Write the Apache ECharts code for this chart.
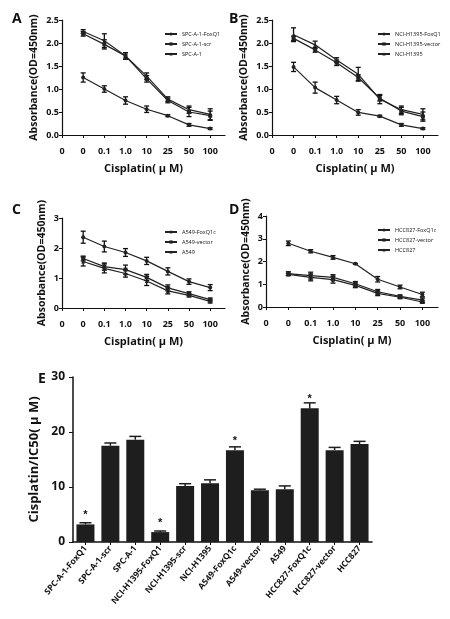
<!DOCTYPE html>
<html><head><meta charset="utf-8">
<script src="https://cdn.jsdelivr.net/npm/echarts@6/dist/echarts.min.js"></script>
<style>html,body{margin:0;background:#fff}#c{width:450px;height:619px}</style>
</head><body><div id="c"></div>
<script>
// 横轴标签 (位置 0 为原点)
var doseLabels = ['0', '0', '0.1', '1.0', '10', '25', '50', '100'];
var doseX = [1, 2, 3, 4, 5, 6, 7];

// A
var namesA = ['SPC-A-1-FoxQ1', 'SPC-A-1-scr', 'SPC-A-1'];
var valsA = [[1.25,1.0,0.75,0.56,0.42,0.22,0.14],[2.2,1.97,1.72,1.22,0.75,0.5,0.42],[2.25,2.05,1.72,1.28,0.78,0.55,0.45]];
var errsA = [[0.1,0.07,0.08,0.07,0.02,0.03,0.02],[0.05,0.1,0.07,0.07,0.05,0.1,0.1],[0.04,0.15,0.07,0.07,0.05,0.08,0.12]];
// B
var namesB = ['NCI-H1395-FoxQ1', 'NCI-H1395-vector', 'NCI-H1395'];
var valsB = [[1.48,1.03,0.76,0.49,0.41,0.22,0.14],[2.1,1.85,1.57,1.25,0.8,0.52,0.4],[2.18,1.96,1.63,1.32,0.78,0.55,0.45]];
var errsB = [[0.1,0.12,0.08,0.06,0.02,0.03,0.02],[0.05,0.05,0.06,0.06,0.06,0.08,0.1],[0.15,0.08,0.05,0.15,0.1,0.08,0.12]];
// C
var namesC = ['A549-FoxQ1c', 'A549-vector', 'A549'];
var valsC = [[2.36,2.05,1.85,1.57,1.22,0.88,0.68],[1.65,1.38,1.28,1.02,0.67,0.48,0.28],[1.55,1.32,1.15,0.9,0.57,0.42,0.22]];
var errsC = [[0.2,0.18,0.13,0.12,0.12,0.09,0.1],[0.08,0.12,0.15,0.1,0.1,0.06,0.05],[0.15,0.15,0.12,0.15,0.1,0.05,0.05]];
// D
var namesD = ['HCC827-FoxQ1c', 'HCC827-vector', 'HCC827'];
var valsD = [[2.8,2.45,2.18,1.9,1.22,0.88,0.55],[1.47,1.38,1.3,1.02,0.67,0.47,0.3],[1.43,1.3,1.2,0.95,0.6,0.43,0.22]];
var errsD = [[0.1,0.07,0.08,0.02,0.12,0.08,0.1],[0.08,0.15,0.12,0.1,0.1,0.06,0.1],[0.05,0.15,0.15,0.1,0.1,0.06,0.05]];
// E
var cellLines = ['SPC-A-1-FoxQ1','SPC-A-1-scr','SPC-A-1','NCI-H1395-FoxQ1','NCI-H1395-scr','NCI-H1395','A549-FoxQ1c','A549-vector','A549','HCC827-FoxQ1c','HCC827-vector','HCC827'];
var ic50 = [3.2,17.5,18.6,1.8,10.2,10.7,16.7,9.4,9.6,24.3,16.7,17.8];
var ic50Err = [0.3,0.5,0.6,0.2,0.4,0.6,0.6,0.2,0.6,1.0,0.5,0.5];
var starred = [0, 3, 6, 9];

var symbols = ['circle', 'rect', 'triangle'];
var font = 'Open Sans';

var chart = echarts.init(document.getElementById('c'));

var panels = [
    {names: namesA, vals: valsA, errs: errsA, max: 2.5, step: 0.5, dec: 1, left: 62, top: 20, width: 163, height: 115},
    {names: namesB, vals: valsB, errs: errsB, max: 2.5, step: 0.5, dec: 1, left: 272, top: 20, width: 166, height: 115},
    {names: namesC, vals: valsC, errs: errsC, max: 3, step: 1, dec: 0, left: 62, top: 218, width: 163, height: 90},
    {names: namesD, vals: valsD, errs: errsD, max: 4, step: 1, dec: 0, left: 266, top: 216, width: 172, height: 91}
];

// 误差线
function errRender(w) {
    return function (params, api) {
        var x = api.value(0), lo = api.value(1), hi = api.value(2);
        var p1 = api.coord([x, lo]), p2 = api.coord([x, hi]);
        var st = {stroke: '#111', lineWidth: 1.3};
        return {type: 'group', children: [
            {type: 'line', shape: {x1: p1[0], y1: p1[1], x2: p2[0], y2: p2[1]}, style: st},
            {type: 'line', shape: {x1: p1[0] - w, y1: p1[1], x2: p1[0] + w, y2: p1[1]}, style: st},
            {type: 'line', shape: {x1: p2[0] - w, y1: p2[1], x2: p2[0] + w, y2: p2[1]}, style: st}
        ]};
    };
}

var grid = [], xAxis = [], yAxis = [], series = [], legend = [];
panels.forEach(function (p, gi) {
    grid.push({left: p.left, top: p.top, width: p.width, height: p.height});
    xAxis.push({
        type: 'value', gridIndex: gi, min: 0, max: 7.7, interval: 1,
        axisLine: {lineStyle: {color: '#111', width: 1.2}},
        axisTick: {show: true, length: 3, lineStyle: {color: '#111'}},
        splitLine: {show: false},
        axisLabel: {margin: 12, color: '#111', fontSize: 9, fontWeight: 'bold', fontFamily: font,
            showMaxLabel: false,
            formatter: function (v) { return doseLabels[Math.round(v)] || ''; }},
        name: 'Cisplatin( μ M)', nameLocation: 'middle', nameGap: 28,
        nameTextStyle: {fontSize: 11, fontWeight: 'bold', color: '#111', fontFamily: font}
    });
    yAxis.push({
        type: 'value', gridIndex: gi, min: 0, max: p.max, interval: p.step,
        axisLine: {show: true, lineStyle: {color: '#111', width: 1.2}},
        axisTick: {show: true, length: 3, lineStyle: {color: '#111'}},
        splitLine: {show: false},
        axisLabel: {margin: 3, color: '#111', fontSize: 9, fontWeight: 'bold', fontFamily: font,
            formatter: function (v) { return v.toFixed(p.dec); }},
        name: 'Absorbance(OD=450nm)', nameLocation: 'middle', nameGap: p.dec ? 22 : 14,
        nameTextStyle: {fontSize: 10.5, fontWeight: 'bold', color: '#111', fontFamily: font}
    });
    legend.push({
        data: p.names, left: p.left + p.width - 66, top: p.top + 6, orient: 'vertical',
        itemWidth: 12, itemHeight: 4, itemGap: 4,
        textStyle: {fontSize: 5.5, color: '#111', fontFamily: font}
    });
    p.names.forEach(function (n, si) {
        series.push({
            type: 'line', name: n, xAxisIndex: gi, yAxisIndex: gi,
            data: doseX.map(function (x, i) { return [x, p.vals[si][i]]; }),
            symbol: symbols[si], symbolSize: 4,
            lineStyle: {color: '#222', width: 1.2}, itemStyle: {color: '#222'}
        });
        series.push({
            type: 'custom', xAxisIndex: gi, yAxisIndex: gi, renderItem: errRender(2.5),
            data: doseX.map(function (x, i) {
                return [x, p.vals[si][i] - p.errs[si][i], p.vals[si][i] + p.errs[si][i]];
            }), z: 3
        });
    });
});

// E 柱状图
grid.push({left: 73, top: 377, width: 299, height: 165});
xAxis.push({
    type: 'category', gridIndex: 4, data: cellLines,
    axisLine: {lineStyle: {color: '#111', width: 1.5}},
    axisTick: {show: true, alignWithLabel: true, length: 3, lineStyle: {color: '#111'}},
    axisLabel: {rotate: 50, interval: 0, margin: 5, fontSize: 8.5, fontWeight: 'bold', color: '#111', fontFamily: font}
});
yAxis.push({
    type: 'value', gridIndex: 4, min: 0, max: 30, interval: 10,
    axisLine: {show: true, lineStyle: {color: '#111', width: 1.5}},
    axisTick: {show: true, length: 4, lineStyle: {color: '#111'}},
    splitLine: {show: false},
    axisLabel: {fontSize: 12, fontWeight: 'bold', color: '#111', fontFamily: font},
    name: 'Cisplatin/IC50( μ M)', nameLocation: 'middle', nameGap: 28,
    nameTextStyle: {fontSize: 13, fontWeight: 'bold', color: '#111', fontFamily: font}
});
series.push({
    type: 'bar', xAxisIndex: 4, yAxisIndex: 4, data: ic50, barWidth: 18,
    itemStyle: {color: '#1e1e1e'},
    label: {show: true, position: 'top', distance: 4, fontSize: 11, fontWeight: 'bold', color: '#111',
        formatter: function (d) { return starred.indexOf(d.dataIndex) >= 0 ? '*' : ''; }}
});
series.push({
    type: 'custom', xAxisIndex: 4, yAxisIndex: 4, z: 3,
    renderItem: function (params, api) {
        var x = api.value(0), v = api.value(1), e = api.value(2);
        var p1 = api.coord([x, v]), p2 = api.coord([x, v + e]);
        var st = {stroke: '#1e1e1e', lineWidth: 1.5};
        return {type: 'group', children: [
            {type: 'line', shape: {x1: p1[0], y1: p1[1], x2: p2[0], y2: p2[1]}, style: st},
            {type: 'line', shape: {x1: p2[0] - 6, y1: p2[1], x2: p2[0] + 6, y2: p2[1]}, style: st}
        ]};
    },
    data: ic50.map(function (v, i) { return [i, v, ic50Err[i]]; })
});

var letters = [['A', 12, 12], ['B', 229, 12], ['C', 12, 203], ['D', 229, 203], ['E', 38, 372]];

chart.setOption({
    animation: false,
    backgroundColor: '#fff',
    grid: grid, xAxis: xAxis, yAxis: yAxis, legend: legend, series: series,
    graphic: letters.map(function (l) {
        return {type: 'text', left: l[1], top: l[2],
            style: {text: l[0], fontSize: 14, fontWeight: 'bold', fill: '#111', fontFamily: font}};
    })
});
</script>
</body></html>
